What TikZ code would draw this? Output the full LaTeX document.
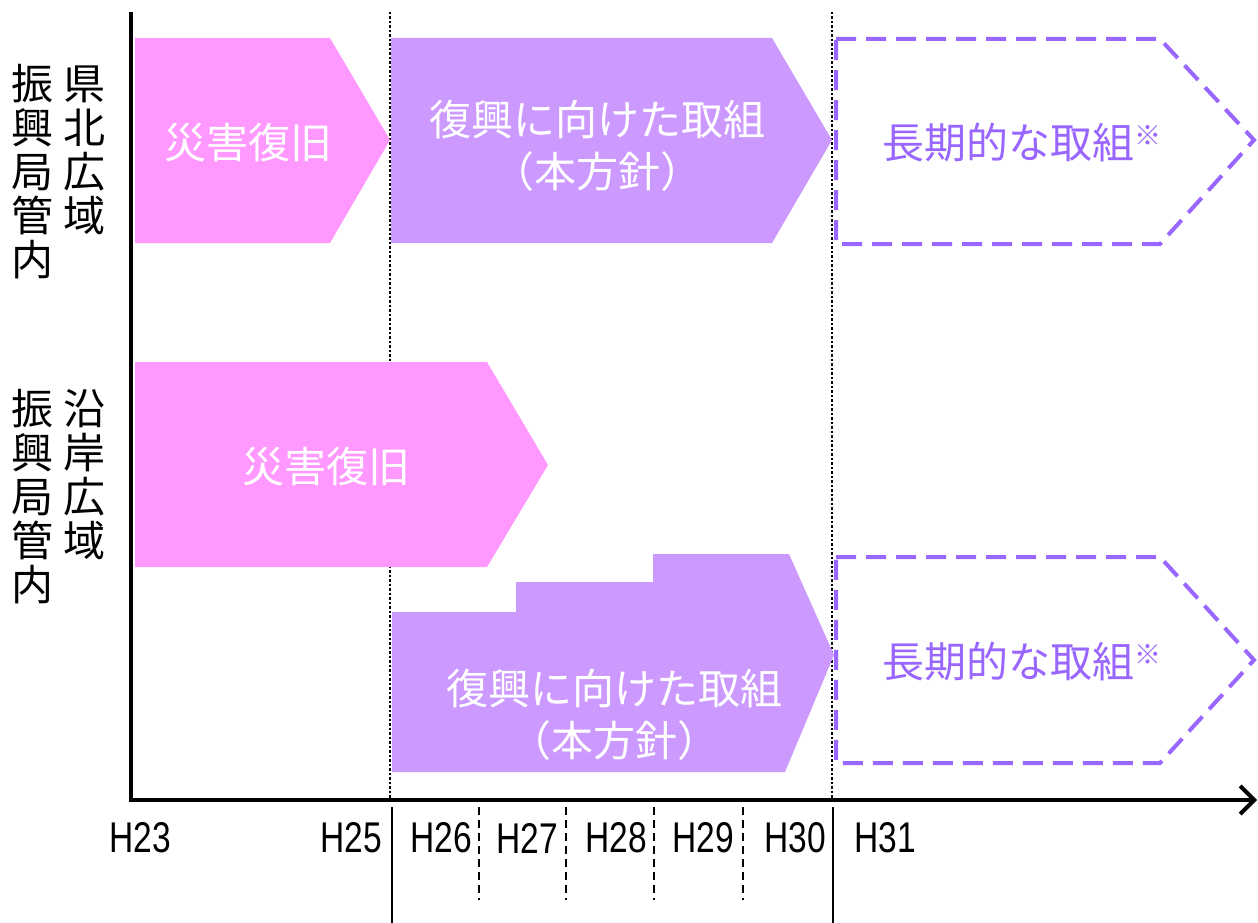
\documentclass[tikz,border=0pt]{standalone}
\usepackage{fontspec}
\setmainfont{Noto Sans CJK JP}
\newfontfamily\latinfont{Liberation Sans}
\usetikzlibrary{arrows.meta}
\definecolor{pinkfill}{RGB}{255,153,255}
\definecolor{purplefill}{RGB}{204,153,255}
\definecolor{dashpurple}{RGB}{153,102,255}
\newcommand\ticktxt[1]{\scalebox{0.78}[1]{#1}}
\newcommand\komemark{{\fontsize{27}{27}\selectfont\raisebox{13pt}{※}}}
\begin{document}
\begin{tikzpicture}[x=1pt,y=-1pt,
  boxtext/.style={text=white, align=center, font=\fontsize{42}{52}\selectfont, inner sep=0pt},
  longtext/.style={text=dashpurple, font=\fontsize{42}{52}\selectfont, inner sep=0pt},
  vlabel/.style={align=center, font=\fontsize{42}{44}\selectfont, inner sep=0pt},
  ticklabel/.style={font=\latinfont\fontsize{43}{43}\selectfont, inner sep=0pt},
  dashbox/.style={draw=dashpurple, line width=4pt, dash pattern=on 20pt off 10pt},
  dotline/.style={line width=2.5pt, dash pattern=on 2.5pt off 2pt},
  axisline/.style={line width=4pt},
  solidtick/.style={line width=1.5pt},
  dashtick/.style={line width=1.5pt, dash pattern=on 8pt off 5pt},
]
\useasboundingbox (0,0) rectangle (1258,923);

% guides (behind shapes)
\coordinate (g1t) at (390,12);
\coordinate (g1b) at (390,800);
\coordinate (g2t) at (832,12);
\coordinate (g2b) at (832,800);
\draw[dotline] (g1t) -- (g1b);
\draw[dotline] (g2t) -- (g2b);

% row 1 shapes
\fill[pinkfill] (135,38) -- (330,38) -- (390,140) -- (330,243) -- (135,243) -- cycle;
\fill[purplefill] (391,38) -- (772,38) -- (832,140) -- (772,243) -- (391,243) -- cycle;
\draw[dashbox] (836,39) -- (1160,39) -- (1254,140) -- (1160,244) -- (836,244) -- cycle;

% row 2 shapes
\fill[pinkfill] (135,362) -- (487,362) -- (548,465) -- (487,567) -- (135,567) -- cycle;
\fill[purplefill] (392,612) -- (516,612) -- (516,582) -- (653,582) -- (653,554) -- (789,554) -- (834,655) -- (785,772) -- (392,772) -- cycle;
\draw[dashbox] (836,557) -- (1160,557) -- (1254,660) -- (1160,763) -- (836,763) -- cycle;

% texts
\node[boxtext] (r1a) at (248,143) {災害復旧};
\node[boxtext] (r1b) at (597,146) {復興に向けた取組\\（本方針）};
\node[longtext] (r1c) at (1022,143) {長期的な取組\komemark};
\node[boxtext] (r2a) at (326,467) {災害復旧};
\node[boxtext] (r2b) at (614,715) {復興に向けた取組\\（本方針）};
\node[longtext] (r2c) at (1022,662) {長期的な取組\komemark};

% vertical labels
\node[vlabel] (l1a) at (33,172) {振\\興\\局\\管\\内};
\node[vlabel] (l1b) at (84,150) {県\\北\\広\\域};
\node[vlabel] (l2a) at (33,497) {振\\興\\局\\管\\内};
\node[vlabel] (l2b) at (84,475) {沿\\岸\\広\\域};

% axes
\coordinate (ytop) at (131,12);
\coordinate (orig) at (131,800);
\coordinate (xend) at (1257,800);
\draw[axisline] (ytop) -- (orig);
\draw[axisline, -{Straight Barb[length=14pt,width=28pt]}] ([xshift=-2pt]orig) -- (xend);

% ticks
\coordinate (t25a) at (392,807); \coordinate (t25b) at (392,923);
\coordinate (t30a) at (833,807); \coordinate (t30b) at (833,923);
\draw[solidtick] (t25a) -- (t25b);
\draw[solidtick] (t30a) -- (t30b);
\foreach \xx/\nm in {479/d1,566/d2,654/d3,743/d4}{
  \coordinate (\nm a) at (\xx,807);
  \coordinate (\nm b) at (\xx,900);
  \draw[dashtick] (\nm a) -- (\nm b);
}

% tick labels
\node[ticklabel] (h23) at (140,838) {\ticktxt{H23}};
\node[ticklabel] (h25) at (351,838) {\ticktxt{H25}};
\node[ticklabel] (h26) at (441,838) {\ticktxt{H26}};
\node[ticklabel] (h27) at (527,838) {\ticktxt{H27}};
\node[ticklabel] (h28) at (616,838) {\ticktxt{H28}};
\node[ticklabel] (h29) at (703,838) {\ticktxt{H29}};
\node[ticklabel] (h30) at (795,838) {\ticktxt{H30}};
\node[ticklabel] (h31) at (885,838) {\ticktxt{H31}};
\end{tikzpicture}
\end{document}
